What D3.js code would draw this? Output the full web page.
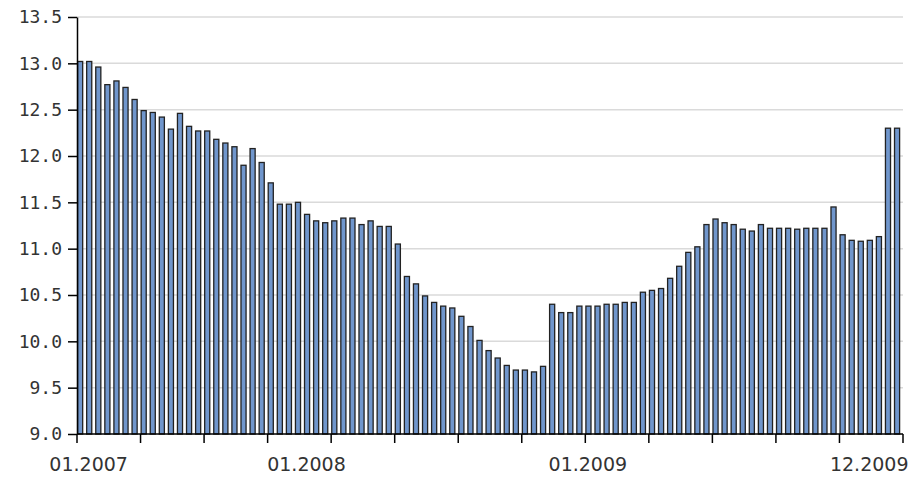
<!DOCTYPE html>
<html>
<head>
<meta charset="utf-8">
<script src="https://cdn.jsdelivr.net/npm/d3@7"></script>
<style>
  body { margin: 0; background: #fff; }
  #chart { display: block; }
</style>
</head>
<body>
<svg id="chart" width="916" height="480"></svg>
<script>
// one value per bar
let values = [
  13.02, 13.02, 12.96, 12.77, 12.81, 12.74, 12.61, 12.49, 12.47, 12.42,
  12.29, 12.46, 12.32, 12.27, 12.27, 12.18, 12.14, 12.10, 11.90, 12.08,
  11.93, 11.71, 11.48, 11.48, 11.50, 11.37, 11.30, 11.28, 11.30, 11.33,
  11.33, 11.26, 11.30, 11.24, 11.24, 11.05, 10.70, 10.62, 10.49, 10.42,
  10.38, 10.36, 10.27, 10.16, 10.01, 9.90, 9.82, 9.74, 9.69, 9.69,
  9.67, 9.73, 10.40, 10.31, 10.31, 10.38, 10.38, 10.38, 10.40, 10.40,
  10.42, 10.42, 10.53, 10.55, 10.57, 10.68, 10.81, 10.96, 11.02, 11.26,
  11.32, 11.28, 11.26, 11.21, 11.19, 11.26, 11.22, 11.22, 11.22, 11.21,
  11.22, 11.22, 11.22, 11.45, 11.15, 11.09, 11.08, 11.09, 11.13, 12.30,
  12.30
];
// which bar each date label sits under
let labelIndex = [1, 25, 56, 87];
let labelText = ["01.2007", "01.2008", "01.2009", "12.2009"];
let yTicks = [9.0, 9.5, 10.0, 10.5, 11.0, 11.5, 12.0, 12.5, 13.0, 13.5];
let tickEvery = 7;

let margin = { top: 17, right: 13, bottom: 46, left: 77 };
let svg = d3.select("#chart");
let width = +svg.attr("width");
let height = +svg.attr("height");

let x = d3.scaleBand()
  .domain(d3.range(values.length))
  .range([margin.left, width - margin.right])
  .paddingInner(0)
  .paddingOuter(0);

let y = d3.scaleLinear()
  .domain([9, 13.5])
  .range([height - margin.bottom, margin.top]);

// grid
svg.append("g")
  .selectAll("line")
  .data(yTicks.filter(d => d > 9))
  .join("line")
  .attr("x1", margin.left)
  .attr("x2", width - margin.right)
  .attr("y1", d => y(d))
  .attr("y2", d => y(d))
  .attr("stroke", "#dadada")
  .attr("stroke-width", 1.5);

// bars
let barW = x.bandwidth() * 0.56;
svg.append("g")
  .selectAll("rect")
  .data(values)
  .join("rect")
  .attr("x", (d, i) => x(i) + 0.6)
  .attr("y", d => y(d))
  .attr("width", barW)
  .attr("height", d => y(9) - y(d))
  .attr("fill", "#7096cc")
  .attr("stroke", "#222")
  .attr("stroke-width", 1.3);

// y axis
let yAxis = svg.append("g")
  .attr("transform", `translate(${margin.left},0)`)
  .call(d3.axisLeft(y).tickValues(yTicks).tickFormat(d3.format(".1f")).tickSize(9).tickPadding(6).tickSizeOuter(0));
yAxis.selectAll("text")
  .attr("font-family", "DejaVu Sans Mono")
  .attr("font-size", 18)
  .attr("fill", "#333");
yAxis.select(".domain").attr("stroke", "#000").attr("stroke-width", 1.5);
yAxis.selectAll(".tick line").attr("stroke", "#000").attr("stroke-width", 1.5);

// x axis: ticks every 7 bars, labels under chosen bars
let step = x.step();
let tickPos = d3.range(0, values.length + 1, tickEvery).map(i => margin.left + i * step);
let xg = svg.append("g");
xg.append("line")
  .attr("x1", margin.left)
  .attr("x2", width - margin.right)
  .attr("y1", y(9))
  .attr("y2", y(9))
  .attr("stroke", "#000")
  .attr("stroke-width", 1.5);
xg.selectAll(".xt")
  .data(tickPos)
  .join("line")
  .attr("class", "xt")
  .attr("x1", d => d)
  .attr("x2", d => d)
  .attr("y1", y(9))
  .attr("y2", y(9) + 9)
  .attr("stroke", "#000")
  .attr("stroke-width", 1.5);
xg.selectAll("text")
  .data(labelIndex)
  .join("text")
  .attr("x", d => x(d) + barW / 2)
  .attr("y", y(9) + 37)
  .attr("text-anchor", "middle")
  .attr("font-family", "DejaVu Sans")
  .attr("font-size", 19)
  .attr("fill", "#333")
  .text((d, i) => labelText[i]);
</script>
</body>
</html>
